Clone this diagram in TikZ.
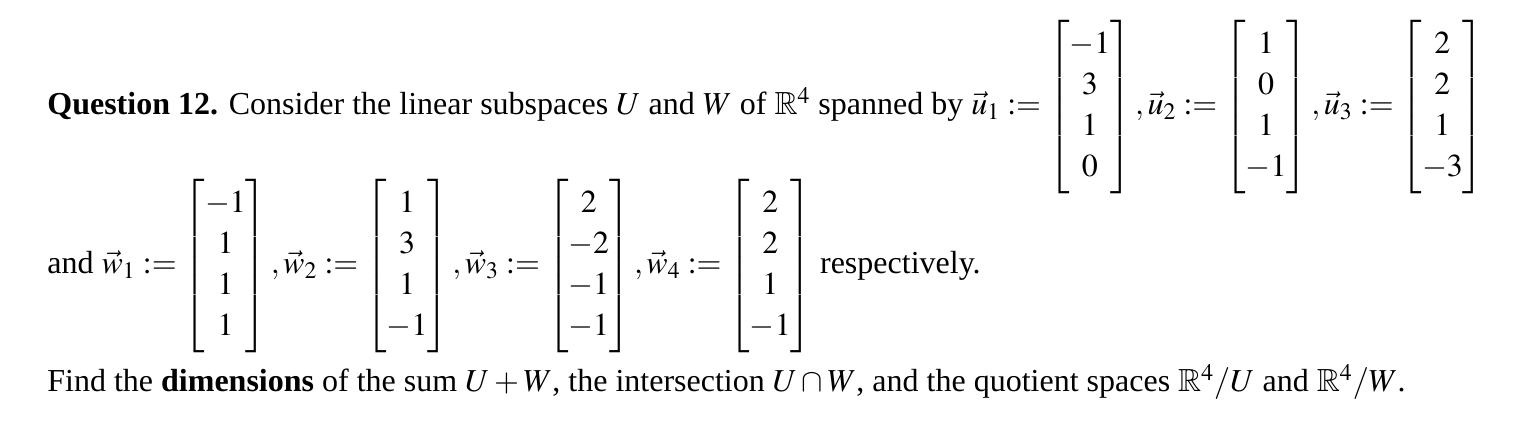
\documentclass[tikz,border=0pt]{standalone}
\usepackage{amsmath,amssymb}
\usepackage{mathptmx}
\usepackage{fontspec}
\setmainfont{Liberation Serif}
\renewcommand\arraystretch{1.08}
\tikzset{line/.style={anchor=base west,inner sep=0pt,font=\fontsize{16}{19}\selectfont}}
\begin{document}
\begin{tikzpicture}[x=1pt,y=1pt]
\useasboundingbox (0,0) rectangle (769,-211);
\node[line] (l1) at (23.5,-57.5) {\textbf{Question 12.} Consider the linear subspaces $U$ and $W$ of $\mathbb{R}^4$ spanned by $\vec{u}_1:=\begin{bmatrix}-1\\3\\1\\0\end{bmatrix},\vec{u}_2:=\begin{bmatrix}1\\0\\1\\-1\end{bmatrix},\vec{u}_3:=\begin{bmatrix}2\\2\\1\\-3\end{bmatrix}$};
\node[line] (l2) at (23.5,-137) {and $\vec{w}_1:=\begin{bmatrix}-1\\1\\1\\1\end{bmatrix},\vec{w}_2:=\begin{bmatrix}1\\3\\1\\-1\end{bmatrix},\vec{w}_3:=\begin{bmatrix}2\\-2\\-1\\-1\end{bmatrix},\vec{w}_4:=\begin{bmatrix}2\\2\\1\\-1\end{bmatrix}$ respectively.};
\node[line] (l3) at (23.5,-196) {Find the \textbf{dimensions} of the sum $U+W$, the intersection $U\cap W$, and the quotient spaces $\mathbb{R}^4/U$ and $\mathbb{R}^4/W$.};
\end{tikzpicture}
\end{document}
